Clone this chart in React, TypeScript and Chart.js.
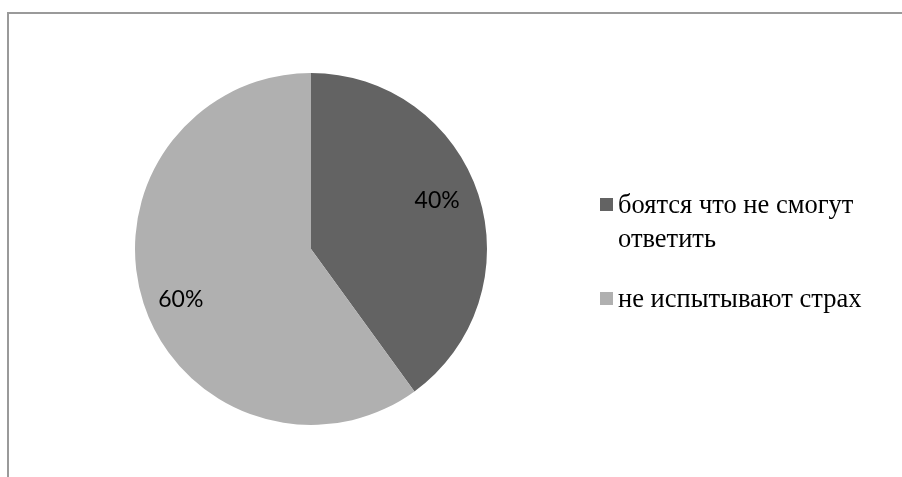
import React, { useEffect, useRef } from "react";
import { Chart, registerables } from "chart.js";

Chart.register(...registerables);

const categories: string[] = ["боятся что не смогут ответить", "не испытывают страх"];
const values: number[] = [40, 60];
const percentLabels: string[] = ["40%", "60%"];
const colors: string[] = ["#636363", "#b0b0b0"];

const labelPlugin = {
  id: "pctLabels",
  afterDatasetsDraw(chart: any) {
    const { ctx } = chart;
    const meta = chart.getDatasetMeta(0);
    ctx.save();
    ctx.font = "23px Lato, 'Noto Sans', sans-serif";
    ctx.fillStyle = "#000";
    ctx.textAlign = "center";
    ctx.textBaseline = "middle";
    meta.data.forEach((arc: any, i: number) => {
      const p = arc.getProps(["x", "y", "startAngle", "endAngle", "outerRadius"], true);
      const mid = (p.startAngle + p.endAngle) / 2 - (3 * Math.PI) / 180;
      const r = p.outerRadius * 0.78;
      ctx.fillText(percentLabels[i], p.x + Math.cos(mid) * r - 2, p.y + Math.sin(mid) * r + 1);
    });
    ctx.restore();
  },
};

export default function App() {
  const ref = useRef<HTMLCanvasElement | null>(null);
  useEffect(() => {
    if (!ref.current) return;
    const chart = new Chart(ref.current, {
      type: "pie",
      data: {
        labels: categories,
        datasets: [{ data: values, backgroundColor: colors, borderWidth: 0 }],
      },
      options: {
        animation: false,
        responsive: false,
        maintainAspectRatio: false,
        layout: { padding: { top: 73, bottom: 52, left: 135, right: 415 } },
        plugins: { legend: { display: false }, tooltip: { enabled: false } },
      },
      plugins: [labelPlugin],
    });
    return () => chart.destroy();
  }, []);

  const itemTops = [187, 281];
  return (
    <div style={{ position: "fixed", left: 0, top: 0, width: 902, height: 477, background: "#fff", overflow: "hidden" }}>
      <div
        style={{
          position: "absolute",
          left: 7,
          top: 12,
          width: 1000,
          height: 600,
          borderTop: "2px solid #9a9a9a",
          borderLeft: "2px solid #9a9a9a",
        }}
      />
      <canvas ref={ref} width={902} height={477} style={{ position: "absolute", left: 0, top: 0 }} />
      {categories.map((c, i) => (
        <div
          key={c}
          style={{
            position: "absolute",
            left: 600,
            top: itemTops[i],
            width: 280,
            paddingLeft: 18,
            fontFamily: "'Liberation Serif', 'Times New Roman', serif",
            fontSize: 26.5,
            lineHeight: "34px",
            color: "#000",
          }}
        >
          <span
            style={{
              position: "absolute",
              left: 0,
              top: 11,
              width: 13,
              height: 13,
              background: colors[i],
            }}
          />
          {c}
        </div>
      ))}
    </div>
  );
}
